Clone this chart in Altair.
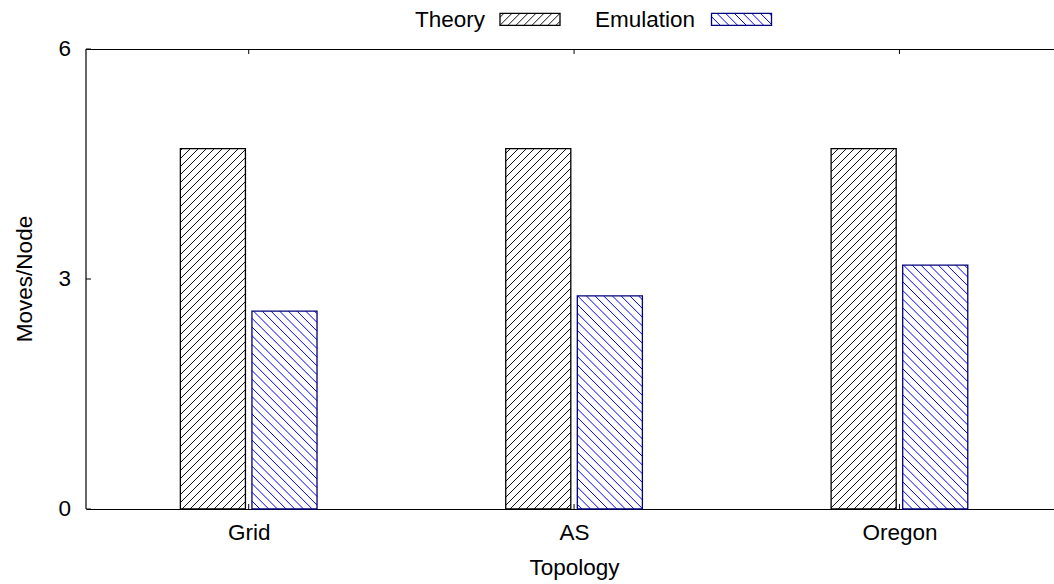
import math
import altair as alt
import pandas as pd

# ---- data ----
categories = ["Grid", "AS", "Oregon"]
series = ["Theory", "Emulation"]
theory = [4.7, 4.7, 4.7]
emulation = [2.58, 2.78, 3.18]
y_ticks = [0, 3, 6]

# ---- layout / style ----
W, H = 968, 460
X_DOMAIN = [-0.5, 2.475]
Y_DOMAIN = [0, 6]
FONT = "Liberation Sans"
FS = 22.5
BAR_SPAN = {"Theory": (-0.21, -0.01), "Emulation": (0.01, 0.21)}
HATCH_STEP = {"Theory": 8.0, "Emulation": 8.7}
HATCH_DIR = {"Theory": 1, "Emulation": -1}
HATCH_COLOR = ["#111111", "#0000ff"]
OUTLINE_COLOR = ["#000000", "#00007a"]

rows = []
for i, cat in enumerate(categories):
    for name, vals in zip(series, [theory, emulation]):
        lo, hi = BAR_SPAN[name]
        rows.append(dict(category=cat, series=name, value=vals[i], base=0,
                         x0=i + lo, x1=i + hi))
bars = pd.DataFrame(rows)


def hatch_lines(w, h, step, direction, phase=0.0):
    """45-degree hatch segments clipped to a w x h box (y pointing up)."""
    out = []
    if direction == 1:
        k_lo, k_hi = math.floor((phase - h) / step), math.ceil((phase + w) / step)
    else:
        k_lo, k_hi = math.floor(phase / step), math.ceil((phase + w + h) / step)
    for k in range(k_lo, k_hi + 1):
        if direction == 1:
            c = phase - k * step            # v = u + c
            ua, ub = max(0.0, -c), min(w, h - c)
            pa, pb = (ua, ua + c), (ub, ub + c)
        else:
            c = k * step - phase            # v = -u + c
            ua, ub = max(0.0, c - h), min(w, c)
            pa, pb = (ua, c - ua), (ub, c - ub)
        if ub - ua > 0.4:
            out.append((pa, pb))
    return out


# hatch segments inside each bar, 45 degrees in screen space
sx = W / (X_DOMAIN[1] - X_DOMAIN[0])
sy = H / (Y_DOMAIN[1] - Y_DOMAIN[0])
segs = []
for r in bars.itertuples():
    w = (r.x1 - r.x0) * sx
    h = r.value * sy
    gx = (r.x0 - X_DOMAIN[0]) * sx
    for pa, pb in hatch_lines(w, h, HATCH_STEP[r.series], HATCH_DIR[r.series], gx):
        segs.append(dict(series=r.series,
                         x=r.x0 + pa[0] / sx, y=pa[1] / sy,
                         x2=r.x0 + pb[0] / sx, y2=pb[1] / sy))
hatch = pd.DataFrame(segs)

x_scale = alt.Scale(domain=X_DOMAIN, nice=False, zero=False)
y_scale = alt.Scale(domain=Y_DOMAIN, nice=False, zero=False)
hatch_color = alt.Scale(domain=series, range=HATCH_COLOR)
outline_color = alt.Scale(domain=series, range=OUTLINE_COLOR)

label_expr = "[" + ",".join("'%s'" % c for c in categories) + "][datum.value]"

hatch_layer = alt.Chart(hatch).mark_rule(strokeWidth=1).encode(
    x=alt.X("x:Q", scale=x_scale, axis=None),
    x2="x2:Q",
    y=alt.Y("y:Q", scale=y_scale, axis=None),
    y2="y2:Q",
    color=alt.Color("series:N", scale=hatch_color, legend=None),
)

bar_layer = alt.Chart(bars).mark_rect(fillOpacity=0, strokeWidth=1.3).encode(
    x=alt.X("x0:Q", scale=x_scale, axis=None),
    x2="x1:Q",
    y=alt.Y("value:Q", scale=y_scale, axis=None),
    y2="base:Q",
    stroke=alt.Stroke("series:N", scale=outline_color, legend=None),
)

# left border, y tick marks (inward), y tick labels and y title
frame = pd.DataFrame({"xl": [X_DOMAIN[0]], "ylo": [Y_DOMAIN[0]], "yhi": [Y_DOMAIN[1]]})
left_border = alt.Chart(frame).mark_rule(color="black", strokeWidth=1.2).encode(
    x=alt.X("xl:Q", scale=x_scale, axis=None),
    y=alt.Y("ylo:Q", scale=y_scale, axis=None),
    y2="yhi:Q")
ytick_df = pd.DataFrame({"t": y_ticks})
ytick_layer = alt.Chart(ytick_df).mark_rule(color="black", strokeWidth=1).encode(
    y=alt.Y("t:Q", scale=y_scale, axis=None), x=alt.value(0), x2=alt.value(5))
ylabel_layer = alt.Chart(ytick_df).mark_text(
    font=FONT, fontSize=FS, align="right", baseline="middle", color="black").encode(
    y=alt.Y("t:Q", scale=y_scale, axis=None), x=alt.value(-15), text="t:Q")
ytitle_layer = alt.Chart(pd.DataFrame({"k": [0]})).mark_text(
    text="Moves/Node", font=FONT, fontSize=FS, angle=270, align="center",
    baseline="alphabetic", color="black").encode(x=alt.value(-54), y=alt.value(H / 2))

# x axes: bottom with category labels, top as plain border; both with inward ticks
xtick_df = pd.DataFrame({"c": list(range(len(categories)))})
xtick_bottom = alt.Chart(xtick_df).mark_rule(color="black", strokeWidth=1).encode(
    x=alt.X("c:Q", scale=x_scale, axis=alt.Axis(
        orient="bottom", values=list(range(len(categories))), labelExpr=label_expr,
        ticks=False, tickSize=0, grid=False, domainColor="black", domainWidth=1.2,
        labelFontSize=FS, labelPadding=12, labelColor="black", labelFont=FONT,
        title="Topology", titleFont=FONT, titleFontSize=FS, titleFontWeight="normal",
        titleColor="black", titleX=488, titleY=65, titleBaseline="alphabetic")),
    y=alt.value(H), y2=alt.value(H - 5))
xtick_top = alt.Chart(xtick_df).mark_rule(color="black", strokeWidth=1).encode(
    x=alt.X("c:Q", scale=x_scale, axis=alt.Axis(
        orient="top", labels=False, ticks=False, tickSize=0, grid=False,
        domainColor="black", domainWidth=1.2, title="")),
    y=alt.value(0), y2=alt.value(5))


# legend: label followed by a hatched swatch drawn as a custom symbol path
def swatch_paths(step, direction, sw=60.0, sh=12.0):
    half = sw / 2.0
    parts = []
    for pa, pb in hatch_lines(sw, sh, step, direction):
        parts.append("M%.3f,%.3f L%.3f,%.3f" % (
            (pa[0] - half) / half, -(pa[1] - sh / 2) / half,
            (pb[0] - half) / half, -(pb[1] - sh / 2) / half))
    e = sh / 2 / half
    box = "M-1,%.3f L1,%.3f L1,%.3f L-1,%.3f Z" % (-e, -e, e, e)
    return " ".join(parts), box


LEGEND_TEXT_X = [399, 609]
LEGEND_BOX_X = [444, 655.5]
LEGEND_Y = -29.7
legend_layers = []
one = pd.DataFrame({"k": [0]})
for j, name in enumerate(series):
    lines, box = swatch_paths(HATCH_STEP[name], HATCH_DIR[name])
    legend_layers.append(alt.Chart(one).mark_text(
        text=name, font=FONT, fontSize=FS, align="right", baseline="alphabetic",
        color="black").encode(x=alt.value(LEGEND_TEXT_X[j]), y=alt.value(LEGEND_Y + 7.4)))
    legend_layers.append(alt.Chart(one).mark_point(
        shape=lines, size=3600, filled=False, opacity=1, strokeWidth=1,
        color=HATCH_COLOR[j]).encode(x=alt.value(LEGEND_BOX_X[j]), y=alt.value(LEGEND_Y)))
    legend_layers.append(alt.Chart(one).mark_point(
        shape=box, size=3600, filled=False, opacity=1, strokeWidth=1.3,
        color=OUTLINE_COLOR[j]).encode(x=alt.value(LEGEND_BOX_X[j]), y=alt.value(LEGEND_Y)))

chart = alt.layer(
    hatch_layer, bar_layer, left_border, ytick_layer, ylabel_layer, ytitle_layer,
    xtick_bottom, xtick_top, *legend_layers
).resolve_axis(x="independent").properties(
    width=W, height=H,
    background="white",
    autosize=alt.AutoSizeParams(type="none"),
    padding={"left": 86, "top": 49, "right": 0, "bottom": 75},
).configure(font=FONT).configure_view(stroke=None)

chart.save("out.html", embed_options={"renderer": "svg", "actions": False})
